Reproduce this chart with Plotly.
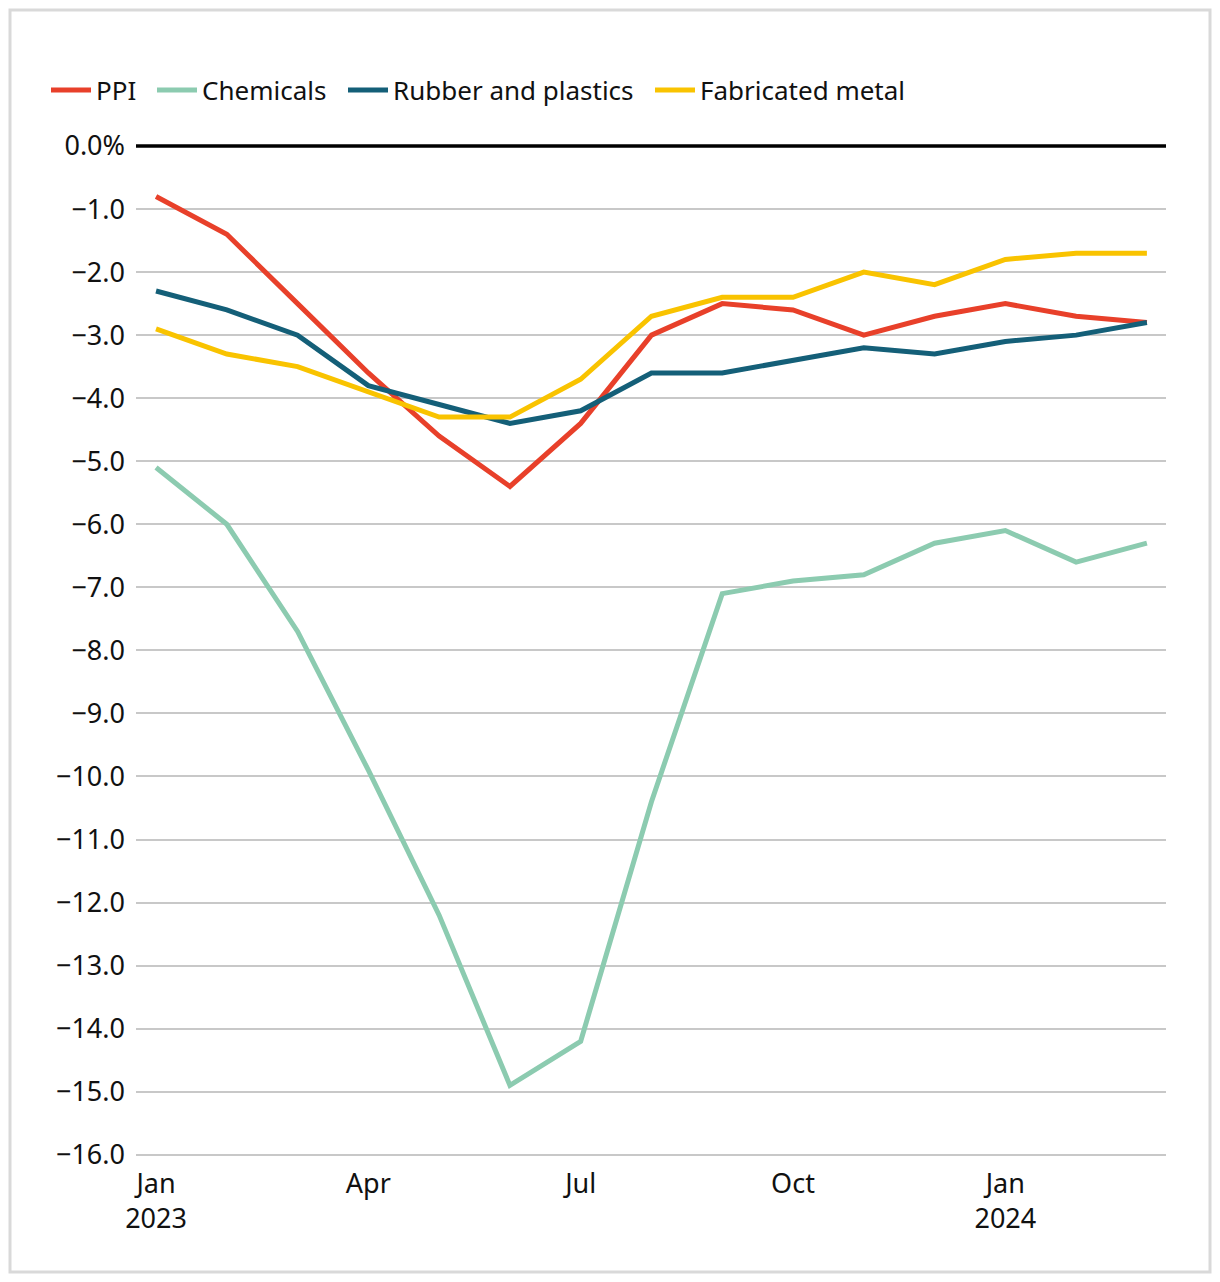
import plotly.graph_objects as go

months = ["Jan 2023", "Feb 2023", "Mar 2023", "Apr 2023", "May 2023", "Jun 2023", "Jul 2023",
          "Aug 2023", "Sep 2023", "Oct 2023", "Nov 2023", "Dec 2023", "Jan 2024", "Feb 2024", "Mar 2024"]
ppi = [-0.8, -1.4, -2.5, -3.6, -4.6, -5.4, -4.4, -3.0, -2.5, -2.6, -3.0, -2.7, -2.5, -2.7, -2.8]
chemicals = [-5.1, -6.0, -7.7, -9.9, -12.2, -14.9, -14.2, -10.4, -7.1, -6.9, -6.8, -6.3, -6.1, -6.6, -6.3]
rubber = [-2.3, -2.6, -3.0, -3.8, -4.1, -4.4, -4.2, -3.6, -3.6, -3.4, -3.2, -3.3, -3.1, -3.0, -2.8]
fabricated = [-2.9, -3.3, -3.5, -3.9, -4.3, -4.3, -3.7, -2.7, -2.4, -2.4, -2.0, -2.2, -1.8, -1.7, -1.7]

series_names = ["PPI", "Chemicals", "Rubber and plastics", "Fabricated metal"]
series_colors = ["#e8402a", "#8ccbb0", "#145f78", "#f9c300"]

x_tickvals = [0, 3, 6, 9, 12]
x_ticktext = ["Jan<br>2023", "Apr", "Jul", "Oct", "Jan<br>2024"]
y_tickvals = list(range(0, -17, -1))
y_ticktext = ["0.0%"] + ["\u2212%d.0" % i for i in range(1, 17)]

# plot area geometry (pixels)
L, R, T, B = 136, 1166, 146, 1156
PW, PH = R - L, B - T

legend_ids = ["legend", "legend2", "legend3", "legend4"]
legend_px = [46, 152, 343, 650]

xs = list(range(len(months)))
fig = go.Figure()
for name, vals, col, lid in zip(series_names, [ppi, chemicals, rubber, fabricated], series_colors, legend_ids):
    fig.add_trace(go.Scatter(x=xs, y=vals, name=name, mode="lines", legend=lid,
                             line=dict(color=col, width=5), hovertext=months))

FONT = "Noto Sans"
legend_common = dict(orientation="h", yanchor="middle", y=1 + (T - 90) / PH, xanchor="left",
                     font=dict(size=26, family=FONT, color="#111111"), itemwidth=40,
                     bgcolor="rgba(0,0,0,0)")
legends = {}
for lid, px in zip(legend_ids, legend_px):
    d = dict(legend_common)
    d["x"] = (px - L) / PW
    legends[lid] = d

fig.update_layout(
    width=1220, height=1282,
    margin=dict(l=L, r=1220 - R, t=T, b=1282 - B),
    paper_bgcolor="white", plot_bgcolor="white",
    font=dict(family=FONT, size=27, color="#111111"),
    showlegend=True,
    xaxis=dict(range=[-0.283, 14.27], tickvals=x_tickvals, ticktext=x_ticktext,
               showgrid=False, zeroline=False, showline=False, ticks="",
               tickfont=dict(size=27), ticklabelstandoff=9),
    yaxis=dict(range=[-16.02, 0.0], tickvals=y_tickvals, ticktext=y_ticktext,
               showgrid=True, gridcolor="#c8c8c8", gridwidth=1.6, zeroline=False,
               showline=False, ticks="", tickfont=dict(size=27), ticklabelstandoff=10),
    shapes=[
        dict(type="line", xref="paper", yref="paper", x0=0, x1=1, y0=1, y1=1,
             line=dict(color="black", width=3.5), layer="above"),
        dict(type="rect", xref="paper", yref="paper",
             x0=(10 - L) / PW, x1=(1210 - L) / PW,
             y0=-(1272 - B) / PH, y1=1 + (T - 10) / PH,
             line=dict(color="#d9d9d9", width=3), layer="below"),
    ],
    **legends,
)
fig.write_html("out.html")
